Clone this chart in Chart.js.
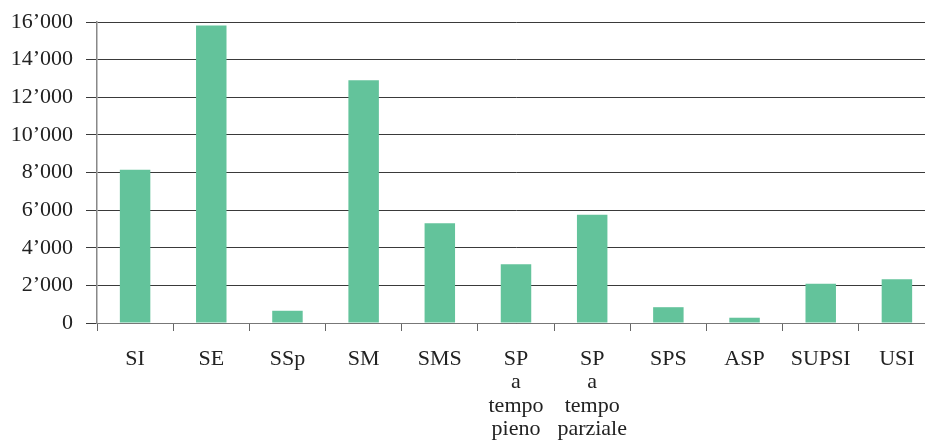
<!DOCTYPE html>
<html>
<head>
<meta charset="utf-8">
<script src="https://cdn.jsdelivr.net/npm/chart.js@4/dist/chart.umd.min.js"></script>
<style>
  html, body { margin: 0; padding: 0; background: #fff; overflow: hidden; }
  #wrap { width: 925px; height: 443px; overflow: hidden; }
</style>
</head>
<body>
<div id="wrap"><canvas id="canva" width="935" height="443"></canvas></div>
<script>
const categories = [
  "SI", "SE", "SSp", "SM", "SMS",
  ["SP", "a", "tempo", "pieno"],
  ["SP", "a", "tempo", "parziale"],
  "SPS", "ASP", "SUPSI", "USI",
];
const values = [8150, 15820, 650, 12900, 5300, 3120, 5750, 840, 280, 2090, 2320];
const yTicks = [0, 2000, 4000, 6000, 8000, 10000, 12000, 14000, 16000];

const fmt = (v) => v.toString().replace(/\B(?=(\d{3})+(?!\d))/g, "\u2019");

const canvas = document.getElementById("canva");
const ctx = canvas.getContext("2d");

let myChart = new Chart(ctx, {
  type: "bar",
  data: {
    labels: categories,
    datasets: [
      {
        data: values,
        backgroundColor: "#63c39b",
        borderWidth: 0,
        barPercentage: 0.4,
        categoryPercentage: 1,
      },
    ],
  },
  options: {
    responsive: false,
    animation: false,
    layout: { padding: { top: 22, left: 0, right: 0, bottom: 0 } },
    plugins: { legend: { display: false }, tooltip: { enabled: false } },
    scales: {
      x: {
        grid: {
          offset: true,
          drawOnChartArea: false,
          drawTicks: true,
          tickLength: 8,
          color: "#666",
        },
        border: { color: "#777", width: 1 },
        ticks: {
          color: "#222",
          padding: 17,
          maxRotation: 0,
          autoSkip: false,
          font: { family: "Liberation Serif", size: 22, lineHeight: 1.05 },
        },
        afterFit: (scale) => {
          scale.height = 120;
          scale.paddingLeft = 0;
          scale.paddingRight = 0;
        },
      },
      y: {
        min: 0,
        max: 16000,
        afterBuildTicks: (scale) => { scale.ticks = yTicks.map((v) => ({ value: v })); },
        grid: { color: "#3a3a3a", tickLength: 11, lineWidth: 1 },
        border: { color: "#888", width: 1.5 },
        ticks: {
          color: "#222",
          padding: 13,
          font: { family: "Liberation Serif", size: 22 },
          callback: (v) => fmt(v),
        },
        afterFit: (scale) => {
          scale.width = 97;
          scale.paddingTop = 0;
          scale.paddingBottom = 0;
        },
      },
    },
  },
});
</script>
</body>
</html>
